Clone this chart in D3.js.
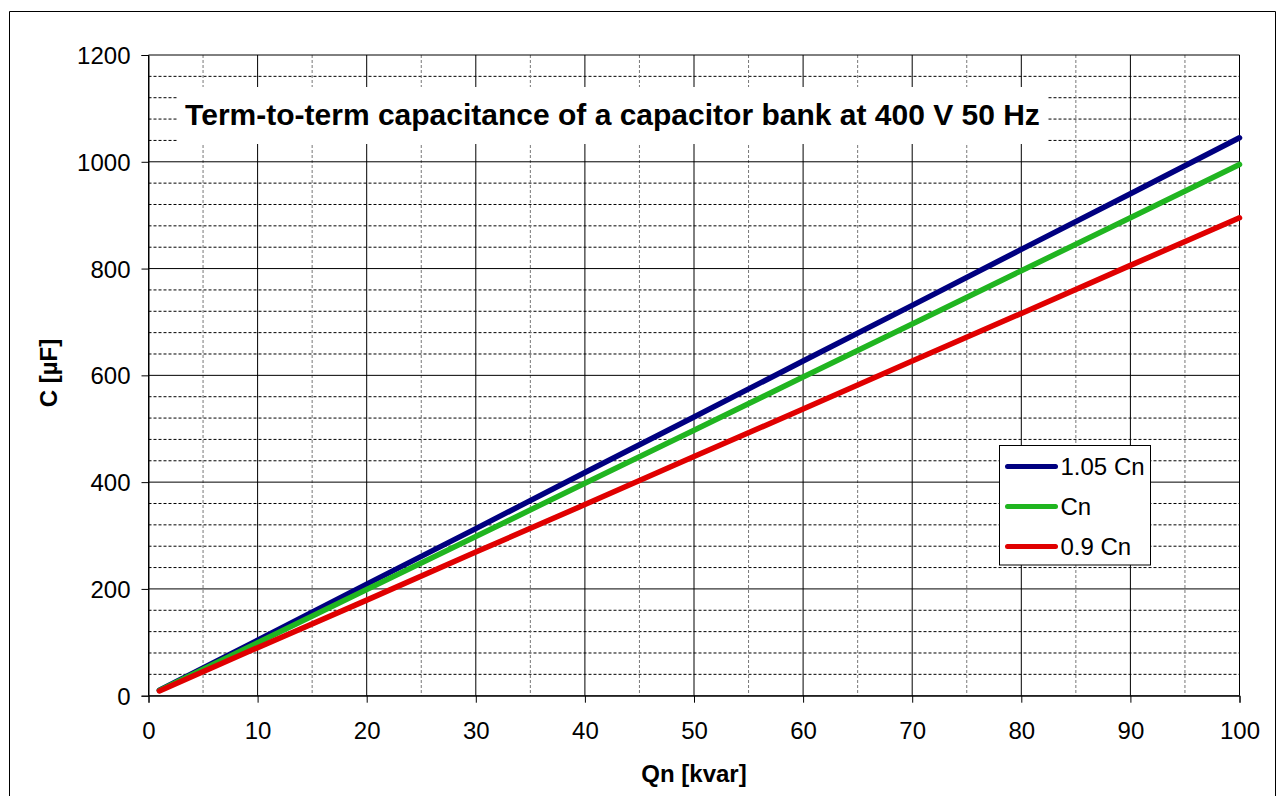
<!DOCTYPE html>
<html>
<head>
<meta charset="utf-8">
<script src="https://cdn.jsdelivr.net/npm/d3@7"></script>
<style>
  body { margin: 0; background: #fff; overflow: hidden; }
  svg { display: block; }
  text { font-family: "Liberation Sans", Arial, sans-serif; }
</style>
</head>
<body>
<script>
// reactive power of the bank, kvar
const qn = [1, 10, 20, 30, 40, 50, 60, 70, 80, 90, 100];
// capacitance values in µF
const c105 = [10.4, 104, 209, 313, 418, 522, 627, 731, 836, 940, 1045];
const cNom = [10, 99, 199, 298, 398, 497, 597, 696, 796, 895, 995];
const c090 = [9, 90, 179, 269, 358, 448, 537, 627, 716, 806, 895];
const seriesNames = ['1.05 Cn', 'Cn', '0.9 Cn'];
const xTicks = [0, 10, 20, 30, 40, 50, 60, 70, 80, 90, 100];
const yTicks = [0, 200, 400, 600, 800, 1000, 1200];

const title = 'Term-to-term capacitance of a capacitor bank at 400 V 50 Hz';
const colors = ['#000080', '#20b520', '#e00000'];

const w = 1277;
const h = 796;
const margin = { top: 55, left: 148.5 };
const innerWidth = 1239.5 - margin.left;
const innerHeight = 695.7 - margin.top;

const svg = d3.select('body').append('svg')
    .attr('width', w)
    .attr('height', h);

// outer chart frame (bottom edge is off the picture)
svg.append('path')
    .attr('d', 'M9.5,796 V11.5 H1275.5 V796')
    .attr('fill', 'none')
    .attr('stroke', '#000')
    .attr('stroke-width', 1);

const xScale = d3.scaleLinear().domain([0, 100]).range([0, innerWidth]);
const yScale = d3.scaleLinear().domain([0, 1200]).range([innerHeight, 0]);

const g = svg.append('g')
    .attr('transform', `translate(${margin.left},${margin.top})`);

// minor grid
g.append('g').selectAll('line')
    .data(d3.range(0, 1201, 40).filter(v => v % 200 !== 0))
    .enter().append('line')
    .attr('x1', 0).attr('x2', innerWidth)
    .attr('y1', d => yScale(d)).attr('y2', d => yScale(d))
    .attr('stroke', '#000')
    .attr('stroke-width', 1)
    .attr('stroke-dasharray', '3,2');

g.append('g').selectAll('line')
    .data(d3.range(5, 100, 10))
    .enter().append('line')
    .attr('x1', d => xScale(d)).attr('x2', d => xScale(d))
    .attr('y1', 0).attr('y2', innerHeight)
    .attr('stroke', '#777')
    .attr('stroke-width', 1)
    .attr('stroke-dasharray', '3,2');

// major grid
g.append('g').selectAll('line')
    .data(yTicks)
    .enter().append('line')
    .attr('x1', 0).attr('x2', innerWidth)
    .attr('y1', d => yScale(d)).attr('y2', d => yScale(d))
    .attr('stroke', '#000')
    .attr('stroke-width', 1);

g.append('g').selectAll('line')
    .data(xTicks)
    .enter().append('line')
    .attr('x1', d => xScale(d)).attr('x2', d => xScale(d))
    .attr('y1', 0).attr('y2', innerHeight)
    .attr('stroke', '#000')
    .attr('stroke-width', 1);

// axes
const xAxis = d3.axisBottom(xScale).tickValues(xTicks)
    .tickFormat(d3.format('d')).tickSize(7).tickPadding(19);
const yAxis = d3.axisLeft(yScale).tickValues(yTicks)
    .tickFormat(d3.format('d')).tickSize(7).tickPadding(11);

const xAxisG = g.append('g')
    .attr('transform', `translate(0,${innerHeight})`)
    .call(xAxis);
const yAxisG = g.append('g').call(yAxis);

[xAxisG, yAxisG].forEach(a => {
    a.attr('font-size', 24)
        .attr('font-family', '"Liberation Sans", Arial, sans-serif');
    a.select('.domain').attr('stroke', '#000');
    a.selectAll('.tick line').attr('stroke', '#000');
    a.selectAll('.tick text').attr('fill', '#000');
});
yAxisG.selectAll('.tick text').attr('dy', '0.36em');

// title box
svg.append('rect')
    .attr('x', 177).attr('y', 87)
    .attr('width', 871).attr('height', 57)
    .attr('fill', '#fff');

svg.append('text')
    .attr('x', 612.5)
    .attr('y', 125)
    .attr('text-anchor', 'middle')
    .attr('font-size', 30)
    .attr('font-weight', 'bold')
    .text(title);

// series lines
const series = [c105, cNom, c090];
const line = d3.line()
    .x((d, i) => xScale(qn[i]))
    .y(d => yScale(d));

g.selectAll('.series')
    .data(series)
    .enter().append('path')
    .attr('class', 'series')
    .attr('d', d => line(d))
    .attr('fill', 'none')
    .attr('stroke', (d, i) => colors[i])
    .attr('stroke-width', 5.5)
    .attr('stroke-linecap', 'round');

// axis titles
svg.append('text')
    .attr('x', 694)
    .attr('y', 782)
    .attr('text-anchor', 'middle')
    .attr('font-size', 24)
    .attr('font-weight', 'bold')
    .text('Qn [kvar]');

svg.append('text')
    .attr('transform', 'translate(57,373) rotate(-90)')
    .attr('text-anchor', 'middle')
    .attr('font-size', 24)
    .attr('font-weight', 'bold')
    .text('C [µF]');

// legend
const legend = svg.append('g').attr('transform', 'translate(999.5,445.5)');
legend.append('rect')
    .attr('width', 151).attr('height', 119.5)
    .attr('fill', '#fff')
    .attr('stroke', '#000')
    .attr('stroke-width', 1);

const items = legend.selectAll('.item')
    .data(seriesNames)
    .enter().append('g')
    .attr('transform', (d, i) => `translate(0,${21 + i * 40})`);

items.append('line')
    .attr('x1', 8).attr('x2', 56)
    .attr('stroke', (d, i) => colors[i])
    .attr('stroke-width', 5)
    .attr('stroke-linecap', 'round');

items.append('text')
    .attr('x', 61)
    .attr('dy', '0.36em')
    .attr('font-size', 24)
    .text(d => d);
</script>
</body>
</html>
